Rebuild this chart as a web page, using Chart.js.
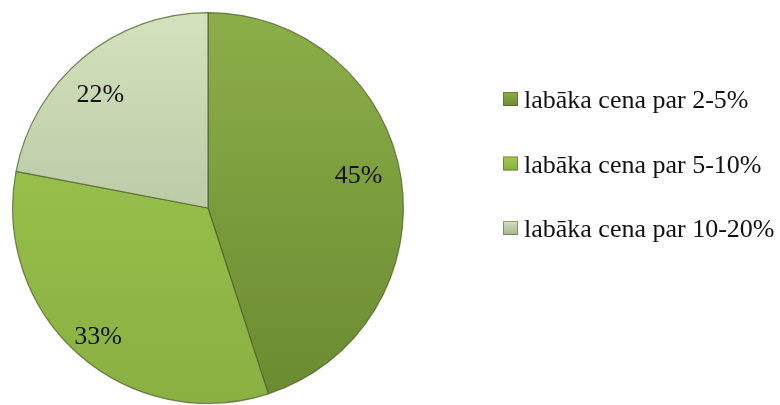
<!DOCTYPE html>
<html>
<head>
<meta charset="utf-8">
<script src="https://cdn.jsdelivr.net/npm/chart.js@4/dist/chart.umd.min.js"></script>
</head>
<body style="margin:0;background:#ffffff">
<canvas id="c" width="780" height="405"></canvas>
<script>
// ---- data ----
const categories = ['labāka cena par 2-5%', 'labāka cena par 5-10%', 'labāka cena par 10-20%'];
const shares = [45, 33, 22];

// ---- styles ----
const gradStops = [
  ['#8cae48', '#6a8a30'],
  ['#a0c950', '#89b041'],
  ['#d3e3bc', '#a6b394']
];
const labelRadiusRatio = [0.78, 0.85, 0.80];
const labelNudge = [[0, -8], [0, 5], [-8, 8]];

function sliceFill(ctx) {
  const chart = ctx.chart;
  const area = chart.chartArea;
  const i = ctx.dataIndex;
  if (!area || i === undefined) return gradStops[i || 0][0];
  const g = chart.ctx.createLinearGradient(0, area.top, 0, area.bottom);
  g.addColorStop(0, gradStops[i][0]);
  g.addColorStop(1, gradStops[i][1]);
  return g;
}

const sliceLabels = {
  id: 'sliceLabels',
  afterDraw(chart) {
    const ctx = chart.ctx;
    const meta = chart.getDatasetMeta(0);
    const data = chart.data.datasets[0].data;
    const total = data.reduce((a, b) => a + b, 0);
    meta.data.forEach((arc, i) => {
      const p = arc.getProps(['x', 'y', 'startAngle', 'endAngle', 'outerRadius'], true);
      const mid = (p.startAngle + p.endAngle) / 2;
      const r = p.outerRadius * labelRadiusRatio[i];
      const x = p.x + Math.cos(mid) * r + labelNudge[i][0];
      const y = p.y + Math.sin(mid) * r + labelNudge[i][1];
      ctx.save();
      ctx.font = '26px "Liberation Serif"';
      ctx.fillStyle = '#111111';
      ctx.textAlign = 'center';
      ctx.textBaseline = 'middle';
      ctx.fillText(Math.round(data[i] / total * 100) + '%', x, y);
      ctx.restore();
    });
  }
};

const sideLegend = {
  id: 'sideLegend',
  afterDraw(chart) {
    const ctx = chart.ctx;
    const labels = chart.data.labels;
    const boxX = 503, boxW = 15, boxH = 14, firstY = 99, step = 64.5, textX = 524;
    labels.forEach((lab, i) => {
      const cy = firstY + i * step;
      ctx.save();
      const g = ctx.createLinearGradient(0, cy - boxH / 2, 0, cy + boxH / 2);
      g.addColorStop(0, gradStops[i][0]);
      g.addColorStop(1, gradStops[i][1]);
      ctx.fillStyle = g;
      ctx.fillRect(boxX, cy - boxH / 2, boxW, boxH);
      ctx.strokeStyle = 'rgba(70,90,40,0.5)';
      ctx.lineWidth = 1;
      ctx.strokeRect(boxX + 0.5, cy - boxH / 2 + 0.5, boxW - 1, boxH - 1);
      ctx.restore();
      ctx.save();
      ctx.font = '26px "Liberation Serif"';
      ctx.fillStyle = '#111111';
      ctx.textAlign = 'left';
      ctx.textBaseline = 'alphabetic';
      ctx.fillText(lab, textX, cy + 9);
      ctx.restore();
    });
  }
};

new Chart(document.getElementById('c'), {
  type: 'pie',
  data: {
    labels: categories,
    datasets: [{
      data: shares,
      backgroundColor: sliceFill,
      borderColor: 'rgba(75,95,40,0.75)',
      borderWidth: 1.2
    }]
  },
  options: {
    responsive: false,
    animation: false,
    layout: { padding: { left: 12, right: 376, top: 12, bottom: 1 } },
    plugins: {
      legend: { display: false },
      tooltip: { enabled: false },
      title: { display: false }
    }
  },
  plugins: [sliceLabels, sideLegend]
});
</script>
</body>
</html>
